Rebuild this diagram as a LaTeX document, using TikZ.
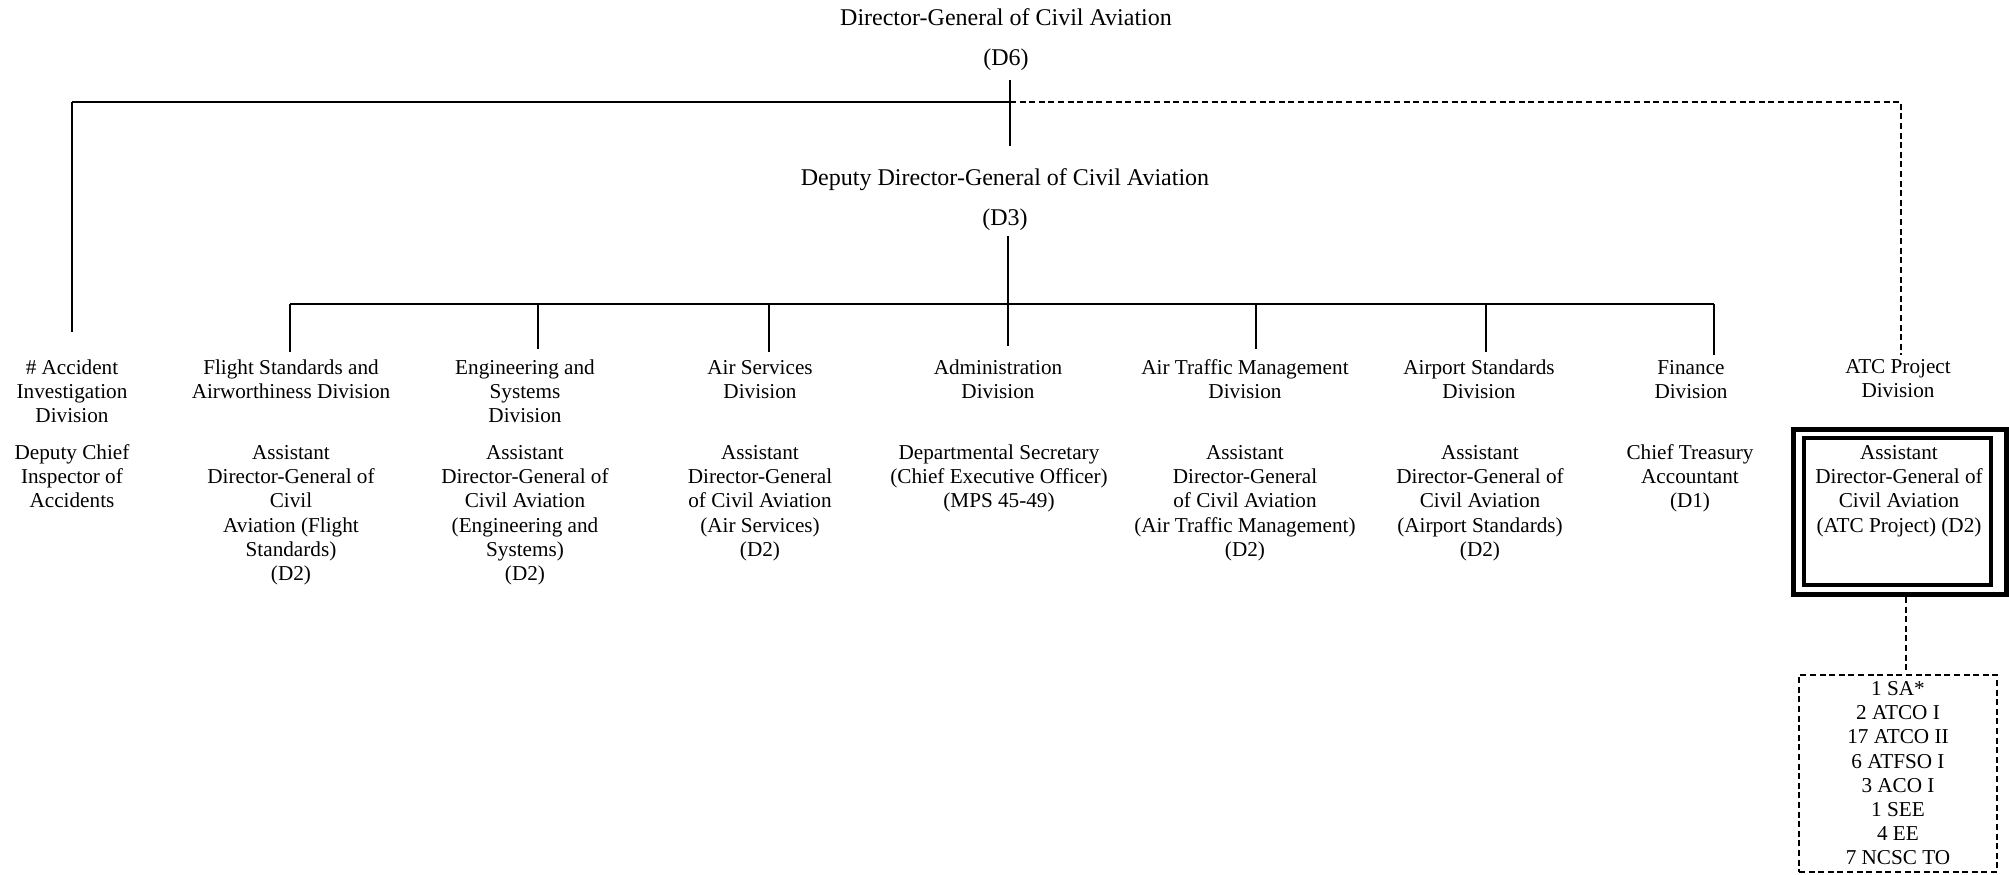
\documentclass[tikz,border=0pt]{standalone}
\usepackage{fontspec}
\setmainfont{Liberation Serif}
\begin{document}
\begin{tikzpicture}[x=0.5pt,y=-0.5pt,
  conn/.style={line width=1pt},
  hbus/.style={line width=1.3pt},
  dconn/.style={line width=1pt, dash pattern=on 3pt off 1.8pt},
  head/.style={anchor=north, inner sep=0pt, align=center, font=\fontsize{12pt}{14pt}\selectfont},
  lbl/.style={anchor=north, inner sep=0pt, align=center, font=\fontsize{10.6pt}{12.1pt}\selectfont},
  outerbox/.style={draw, line width=2.5pt, inner sep=0pt, outer sep=0pt, minimum width=106.5pt, minimum height=82.5pt},
  innerbox/.style={draw, line width=2pt, inner sep=0pt, outer sep=0pt, minimum width=93.25pt, minimum height=73.5pt},
  staffbox/.style={draw, line width=1.2pt, dash pattern=on 3pt off 1.8pt, inner sep=0pt, minimum width=99pt, minimum height=98.5pt}
]
\useasboundingbox (0,0) rectangle (2009,874);

% headings
\node[head] (dg) at (1006,8) {Director-General of Civil Aviation};
\node[head] (d6) at (1006,48) {(D6)};
\node[head] (ddg) at (1005,168) {Deputy Director-General of Civil Aviation};
\node[head] (d3) at (1005,208) {(D3)};

% division titles
\node[lbl] (accdiv) at (72,359) {\# Accident\\Investigation\\Division};
\node[lbl] (fsdiv) at (291,359) {Flight Standards and\\Airworthiness Division};
\node[lbl] (engdiv) at (525,359) {Engineering and\\Systems\\Division};
\node[lbl] (asdiv) at (760,360) {Air Services\\Division};
\node[lbl] (admdiv) at (998,359) {Administration\\Division};
\node[lbl] (atmdiv) at (1245,359) {Air Traffic Management\\Division};
\node[lbl] (apsdiv) at (1479,359) {Airport Standards\\Division};
\node[lbl] (findiv) at (1691,360) {Finance\\Division};
\node[lbl] (atcdiv) at (1898,359) {ATC Project\\Division};

% officers
\node[lbl] (accoff) at (72,444) {Deputy Chief\\Inspector of\\Accidents};
\node[lbl] (fsoff) at (291,445) {Assistant\\Director-General of\\Civil\\Aviation (Flight\\Standards)\\(D2)};
\node[lbl] (engoff) at (525,445) {Assistant\\Director-General of\\Civil Aviation\\(Engineering and\\Systems)\\(D2)};
\node[lbl] (asoff) at (760,445) {Assistant\\Director-General\\of Civil Aviation\\(Air Services)\\(D2)};
\node[lbl] (admoff) at (999,444) {Departmental Secretary\\(Chief Executive Officer)\\(MPS 45-49)};
\node[lbl] (atmoff) at (1245,445) {Assistant\\Director-General\\of Civil Aviation\\(Air Traffic Management)\\(D2)};
\node[lbl] (apsoff) at (1480,445) {Assistant\\Director-General of\\Civil Aviation\\(Airport Standards)\\(D2)};
\node[lbl] (finoff) at (1690,444) {Chief Treasury\\Accountant\\(D1)};

% ATC double box
\node[outerbox] (atcbox) at (1899.5,512) {};
\node[innerbox] (atcinner) at (1897.25,511.5) {};
\node[lbl] (atcoff) at (1899,445) {Assistant\\Director-General of\\Civil Aviation\\(ATC Project) (D2)};

% staff box
\node[staffbox] (staff) at (1898,773.5) {};
\node[lbl] (stafftxt) at (1898,681) {1 SA*\\2 ATCO I\\17 ATCO II\\6 ATFSO I\\3 ACO I\\1 SEE\\4 EE\\7 NCSC TO};

% connector coordinates
\coordinate (dgtop) at (1010,80);
\coordinate (dgbot) at (1010,146);
\coordinate (jl) at (72,102);
\coordinate (jm) at (1010,102);
\coordinate (jr) at (1901,102);
\coordinate (acctop) at (72,332);
\coordinate (atctop) at (1901,355);
\coordinate (ddgtop) at (1008,236);
\coordinate (admtop) at (1008,346);
\coordinate (busl) at (290,304);
\coordinate (busr) at (1714,304);
\coordinate (fstop) at (290,352);
\coordinate (engtop) at (538,349);
\coordinate (astop) at (769,352);
\coordinate (atmtop) at (1256,349);
\coordinate (apstop) at (1486,352);
\coordinate (fintop) at (1714,355);
\coordinate (boxbot) at (1906,597);
\coordinate (stafftop) at (1906,670);

% connectors
\draw[conn] (dgtop) -- (dgbot);
\draw[hbus] (jl) -- (jm);
\draw[conn] (jl) -- (acctop);
\draw[dconn] (jm) -- (jr) -- (atctop);
\draw[conn] (ddgtop) -- (admtop);
\draw[hbus] (busl) -- (busr);
\draw[conn] (fstop) -- (fstop |- busl);
\draw[conn] (engtop) -- (engtop |- busl);
\draw[conn] (astop) -- (astop |- busl);
\draw[conn] (atmtop) -- (atmtop |- busl);
\draw[conn] (apstop) -- (apstop |- busl);
\draw[conn] (fintop) -- (fintop |- busl);
\draw[dconn] (boxbot) -- (stafftop);
\end{tikzpicture}
\end{document}
